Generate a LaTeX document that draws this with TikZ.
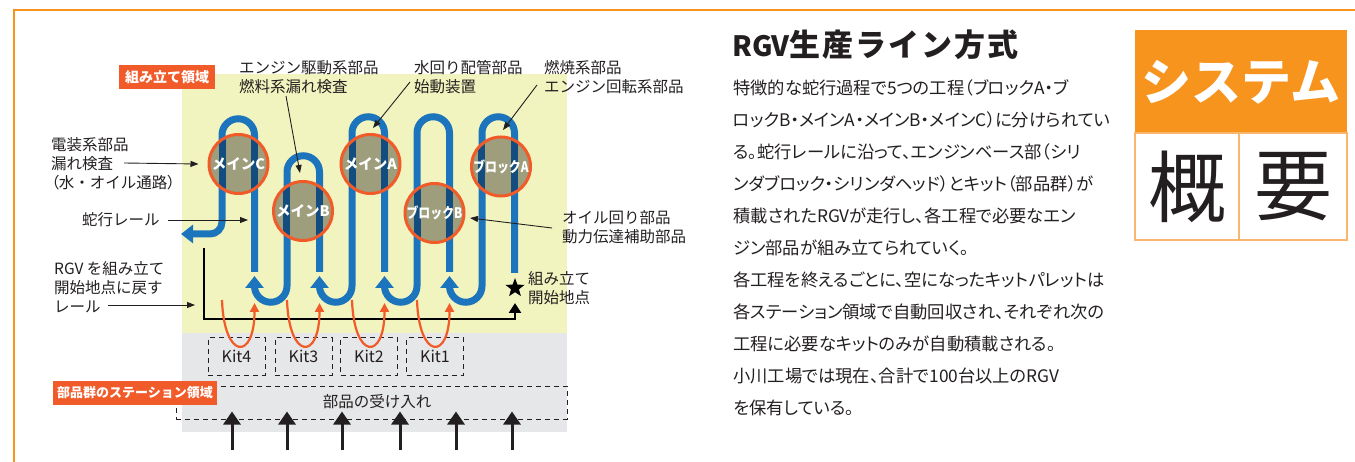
\documentclass[tikz,border=0pt]{standalone}
\usepackage{fontspec}
\setmainfont{Noto Sans CJK JP}
\newfontfamily\jpprop{Noto Sans CJK JP}[RawFeature=+palt]
\usetikzlibrary{positioning, calc, arrows.meta, shapes.geometric}
\usepackage{xcolor}
\definecolor{railblue}{HTML}{1C75BC}
\definecolor{darkrail}{HTML}{134C7E}
\definecolor{stationfill}{HTML}{9E9D7C}
\definecolor{stationred}{HTML}{F15A29}
\definecolor{ink}{HTML}{231F20}
\definecolor{assyyellow}{HTML}{F2F4BF}
\definecolor{stationgray}{HTML}{E6E7E8}
\definecolor{frameorange}{HTML}{F7941D}
\definecolor{boxline}{HTML}{F9B66E}

\begin{document}
\begin{tikzpicture}[x=1pt, y=-1pt,
  rail/.style={draw=railblue, line width=7pt},
  railtip/.style={-{Triangle[length=12pt,width=18pt]}},
  station/.style={circle, draw=stationred, line width=3pt, fill=stationfill,
    minimum size=59pt, inner sep=0pt, text=white,
    font=\fontsize{14.5}{14.5}\selectfont\bfseries,
    path picture={\draw[darkrail, line width=7pt]
      ([xshift=#1-16.25pt]path picture bounding box.north) -- ([xshift=#1-16.25pt]path picture bounding box.south)
      ([xshift=#1+16.25pt]path picture bounding box.north) -- ([xshift=#1+16.25pt]path picture bounding box.south);}},
  station/.default=0pt,
  lbl/.style={align=left, inner sep=0pt, text=ink, font=\fontsize{15.5}{19}\selectfont},
  note/.style={draw=ink, line width=0.9pt, -{Triangle[length=8pt,width=6pt]}},
  kitbox/.style={draw=ink, line width=1pt, dash pattern=on 5pt off 4pt, inner sep=0pt,
    minimum width=57pt, minimum height=37pt, text=ink, font=\fontsize{16}{16}\selectfont},
  tag/.style={fill=stationred, text=white, inner sep=0pt, minimum height=24pt,
    font=\fontsize{14}{14}\selectfont\bfseries},
  feed/.style={draw=stationred, line width=2.2pt, -{Triangle[length=9pt,width=9pt]}},
  inarrow/.style={draw=ink, line width=3pt, -{Triangle[length=13pt,width=17pt]}},
  bodyline/.style={anchor=west, inner sep=0pt, text=ink, font=\jpprop\fontsize{17.3}{17.3}\selectfont}
]
\useasboundingbox (0,0) rectangle (1355,462);

% 枠と領域
\draw[frameorange, line width=1.5pt] (14,462) -- (14,10) -- (1355,10);
\fill[assyyellow] (182,74) rectangle (567,333);
\fill[stationgray] (182,333) rectangle (567,432);

% 蛇行レール
\draw[rail, railtip] (514.5,273) -- (514.5,133) arc[start angle=0, end angle=-180, radius=16.25]
  -- (482,286) arc[start angle=0, end angle=180, radius=16.25] -- (449.5,276);
\draw[rail, railtip] (449.5,272) -- (449.5,133) arc[start angle=0, end angle=-180, radius=16.25]
  -- (417,286) arc[start angle=0, end angle=180, radius=16.25] -- (384.5,276);
\draw[rail, railtip] (384.5,272) -- (384.5,133) arc[start angle=0, end angle=-180, radius=16.25]
  -- (352,286) arc[start angle=0, end angle=180, radius=16.25] -- (319.5,276);
\draw[rail, railtip] (319.5,272) -- (319.5,172) arc[start angle=0, end angle=-180, radius=16.25]
  -- (287,286) arc[start angle=0, end angle=180, radius=16.25] -- (254.5,276);
\draw[rail, railtip] (254.5,272) -- (254.5,135) arc[start angle=0, end angle=-180, radius=16.25]
  -- (222,222) arc[start angle=0, end angle=90, radius=12] -- (181,234);

% 工程
\node[station] (mainC) at (238.5,164) {メインC};
\node[station] (mainB) at (303,211) {メインB};
\node[station=-2pt] (mainA) at (370.5,164) {メインA};
\node[station=-1pt] (blockB) at (434.5,213) {\scalebox{0.82}[1]{ブロックB}};
\node[station=-3pt] (blockA) at (501,166.5) {\scalebox{0.82}[1]{ブロックA}};

% 戻りレール
\coordinate (railStart) at (204,248);
\node[star, star points=5, star point ratio=2.4, fill=black, inner sep=0pt, minimum size=20pt] (startStar) at (515,288) {};
\coordinate (railEnd) at (515,303);
\draw[black, line width=2.5pt, -{Triangle[length=10pt,width=12pt]}] (railStart) -- (204,319) -| (railEnd);

% キット
\node[kitbox] (kit4) at (236.5,356.5) {Kit4};
\node[kitbox] (kit3) at (303.5,356.5) {Kit3};
\node[kitbox] (kit2) at (369,356.5) {Kit2};
\node[kitbox] (kit1) at (435,356.5) {Kit1};
\draw[feed] (222,300) .. controls +(2,60) and +(0,58) .. (254.5,303);
\draw[feed] (287,300) .. controls +(2,60) and +(0,58) .. (319.5,303);
\draw[feed] (352,300) .. controls +(2,60) and +(0,58) .. (384.5,303);
\draw[feed] (417,300) .. controls +(2,60) and +(0,58) .. (449.5,303);

% 部品の受け入れ
\node[kitbox, minimum width=391pt, minimum height=33pt] (recvBox) at (371.5,402.5) {};
\node[lbl] (recvLbl) at (377,402) {部品の受け入れ};
\foreach \x [count=\i] in {232,287,342,400,456,512}
  \coordinate (in\i) at (\x,450);
\foreach \i in {1,...,6}
  \draw[inarrow] (in\i) -- ($(in\i |- recvBox.south)+(0,-8)$);

% 領域ラベル
\node[tag, minimum width=96pt] (assyTag) at (167,77) {組み立て領域};
\node[tag, minimum width=164pt, font=\fontsize{13}{13}\selectfont\bfseries] (stationTag) at (135,392.5) {部品群のステーション領域};

% 説明ラベル
\node[lbl, anchor=west] (elecLbl) at (51,164) {電装系部品\\漏れ検査\\{\jpprop（}水・オイル通路{\jpprop）}};
\coordinate (elecFrom) at (124,163);
\draw[note] (elecFrom) -- ([xshift=-9pt]mainC.west);
\node[lbl, anchor=west] (snakeLbl) at (82,220) {蛇行レール};
\coordinate (snakeTo) at (248,220);
\draw[note] ([xshift=8pt]snakeLbl.east) -- (snakeTo);
\node[lbl, anchor=west] (rgvLbl) at (54,287) {RGV を組み立て\\開始地点に戻す\\レール};
\coordinate (rgvFrom) at (108,305);
\coordinate (rgvTo) at (195,305);
\draw[note] (rgvFrom) -- (rgvTo);
\node[lbl, anchor=west] (engLbl) at (239,77.5) {エンジン駆動系部品\\燃料系漏れ検査};
\coordinate (engFrom) at (286,96);
\draw[note] (engFrom) -- ([shift={(-3,-7)}]mainB.north);
\node[lbl, anchor=west] (waterLbl) at (414,77.5) {水回り配管部品\\始動装置};
\coordinate (waterFrom) at (410,82);
\draw[note] (waterFrom) -- ([shift={(2.5,-5)}]mainA.north);
\node[lbl, anchor=west] (fuelLbl) at (544,77.5) {燃焼系部品\\エンジン回転系部品};
\coordinate (fuelFrom) at (537,85);
\draw[note] (fuelFrom) -- ([shift={(2,-5.5)}]blockA.north);
\node[lbl, anchor=west] (oilLbl) at (562,227.5) {オイル回り部品\\動力伝達補助部品};
\coordinate (oilFrom) at (552,228);
\draw[note] (oilFrom) -- ([shift={(4.5,5)}]blockB.east);
\node[lbl, anchor=west] (startLbl) at (528,288) {組み立て\\開始地点};

% 本文
\node[anchor=west, inner sep=0pt, text=ink, font=\fontsize{28}{28}\selectfont\bfseries] (title) at (732,45) {RGV{\fontsize{31}{31}\selectfont\addfontfeature{LetterSpace=6}生産ライン方式}};
\node[bodyline] (body1) at (733,88) {特徴的な蛇行過程で5つの工程（ブロックA・ブ};
\node[bodyline] (body2) at (733,120) {ロックB・メインA・メインB・メインC）に分けられてい};
\node[bodyline] (body3) at (733,152) {る。蛇行レールに沿って、エンジンベース部（シリ};
\node[bodyline] (body4) at (733,184) {ンダブロック・シリンダヘッド）とキット（部品群）が};
\node[bodyline] (body5) at (733,216) {積載されたRGVが走行し、各工程で必要なエン};
\node[bodyline] (body6) at (733,248) {ジン部品が組み立てられていく。};
\node[bodyline] (body7) at (733,280) {各工程を終えるごとに、空になったキットパレットは};
\node[bodyline] (body8) at (733,312) {各ステーション領域で自動回収され、それぞれ次の};
\node[bodyline] (body9) at (733,344) {工程に必要なキットのみが自動積載される。};
\node[bodyline] (body10) at (733,376) {小川工場では現在、合計で100台以上のRGV};
\node[bodyline] (body11) at (733,408) {を保有している。};

% システム概要
\fill[frameorange] (1135,30) rectangle (1347,133);
\draw[boxline, line width=1.5pt] (1135,133) rectangle (1347,240);
\draw[boxline, line width=1.5pt] (1239,133) -- (1239,240);
\node[text=white, font=\fontsize{50}{50}\selectfont\bfseries] (sysLbl) at (1241,82) {システム};
\node[text=ink, font=\fontsize{78}{78}\selectfont] (gaiLbl) at (1187,187) {概};
\node[text=ink, font=\fontsize{78}{78}\selectfont] (youLbl) at (1293,187) {要};

\end{tikzpicture}
\end{document}
